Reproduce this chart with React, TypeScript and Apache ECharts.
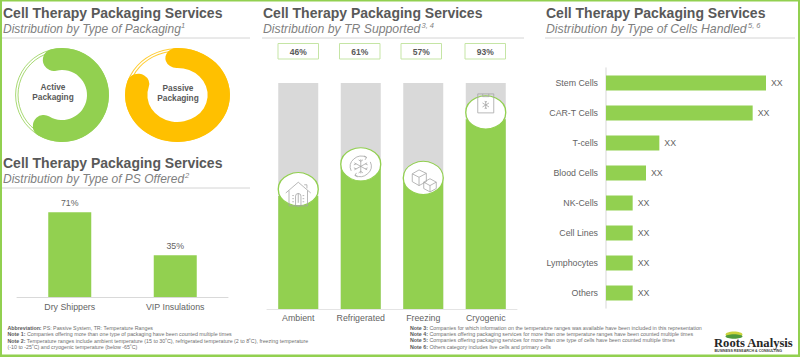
import React, { useEffect, useRef } from "react";
import * as echarts from "echarts";

const GREEN = "#92d050";
const AMBER = "#ffc000";
const GREY = "#d9d9d9";
const INK = "#595959";
const FONT = "'Liberation Sans', Arial, sans-serif";

const mainTitle = "Cell Therapy Packaging Services";

const packagingNames = ["Active\nPackaging", "Passive\nPackaging"];
const packagingLabels = ["52%", "89%"];
// Share of the ring covered by the band as drawn in the picture
const packagingArcShares = [72, 89];

const psCategories = ["Dry Shippers", "VIP Insulations"];
const psValues = [71, 35];

const trCategories = ["Ambient", "Refrigerated", "Freezing", "Cryogenic"];
const trLabels = ["46%", "61%", "57%", "93%"];
// Fill heights and badge centres as drawn in the picture (% of the track)
const trFill = [50, 63, 56, 84];
const trBadge = [53, 64, 58, 87];
const trTrack = [100, 100, 100, 100];

const cellCategories = ["Stem Cells", "CAR-T Cells", "T-cells", "Blood Cells", "NK-Cells", "Cell Lines", "Lymphocytes", "Others"];
const cellValues = [48, 44, 16, 12, 8, 8, 8, 8];

const leftNotes = [
  "{b|Abbreviation:} PS: Passive System, TR: Temperature Ranges",
  "{b|Note 1:} Companies offering more than one type of packaging have been counted multiple times",
  "{b|Note 2:} Temperature ranges include ambient temperature (15 to 30˚C), refrigerated temperature (2 to 8˚C), freezing temperature",
  "(-10 to -25˚C) and cryogenic temperature (below -65˚C)",
];
const rightNotes = [
  "{b|Note 3:} Companies for which information on the temperature ranges was available have been included in this representation",
  "{b|Note 4:} Companies offering packaging services for more than one temperature ranges have been counted multiple times",
  "{b|Note 5:} Companies offering packaging services for more than one type of cells have been counted multiple times",
  "{b|Note 6:} Others category includes live cells and primary cells",
];

const ICON_HOUSE =
  "path://M50 4 L96 46 M50 4 L4 46 M16 36 V96 H84 V36 M72 14 H82 V28 M40 96 V58 A10 10 0 0 1 60 58 V96 M50 46 V84 M28 56 H34 M28 68 H34 M28 80 H34 M66 56 H72 M66 68 H72 M66 80 H72 M42 94 A11 11 0 0 0 58 94";
const ICON_SNOW =
  "path://M50 22 V78 M26 36 L74 64 M74 36 L26 64 M50 30 L42 24 M50 30 L58 24 M50 70 L42 76 M50 70 L58 76 M33 40 L24 44 M67 60 L76 56 M67 40 L76 44 M33 60 L24 56 M14 68 A42 42 0 0 1 72 14 M86 32 A42 42 0 0 1 28 86 M72 14 L62 8 M72 14 L66 24 M28 86 L38 92 M28 86 L34 76";
const ICON_BOXES =
  "path://M4 24 L30 8 L58 22 L58 56 L30 72 L4 56 Z M4 24 L30 38 L58 22 M30 38 V72 M48 58 L72 44 L96 58 L96 84 L72 98 L48 84 Z M48 58 L72 72 L96 58 M72 72 V98";
const ICON_FREEZER =
  "path://M8 2 H92 V98 H8 Z M34 2 V16 H66 V2 M50 38 V78 M33 48 L67 68 M67 48 L33 68 M50 44 L44 40 M50 44 L56 40 M50 72 L44 76 M50 72 L56 76";
const trIcons = [ICON_HOUSE, ICON_SNOW, ICON_BOXES, ICON_FREEZER];

function text(x: number, y: number, t: string, fontSize: number, extra: any = {}) {
  return {
    type: "text",
    x,
    y,
    silent: true,
    style: {
      text: t,
      fontSize,
      fontFamily: FONT,
      fill: INK,
      textAlign: "left",
      textVerticalAlign: "middle",
      ...extra,
    },
  };
}

function heading(x: number, y: number, sub: string, subSize: number, sup: string, supX: number, lineEnd: number) {
  return [
    text(x, y, mainTitle, 14, { fontWeight: "bold" }),
    text(x, y + 15.5, sub, subSize, { fontStyle: "italic", fill: "#7f7f7f" }),
    text(supX, y + 12.5, sup, 7.5, { fontStyle: "italic", fill: "#7f7f7f" }),
    {
      type: "line",
      silent: true,
      shape: { x1: x - 1, y1: y + 25, x2: lineEnd, y2: y + 25 },
      style: { stroke: "#d4d4d4", lineWidth: 1 },
    },
  ];
}

function ringSeries(idx: number, color: string, cx: number, cy: number, stretch: number, r0: number, startDeg: number) {
  return {
    type: "custom",
    coordinateSystem: "none",
    silent: true,
    clip: false,
    data: [[packagingArcShares[idx]]],
    renderItem: (_p: any, api: any) => {
      const share = api.value(0) as number;
      const start = ((startDeg - 90) * Math.PI) / 180;
      const end = start + (share / 100) * Math.PI * 2;
      const ringStyle = { fill: "none", stroke: color, lineWidth: 1, opacity: 0.8 };
      return {
        type: "group",
        x: cx,
        y: cy,
        scaleX: stretch,
        children: [
          { type: "circle", shape: { cx: 0, cy: 0, r: 46.4 }, style: ringStyle },
          { type: "circle", shape: { cx: 0, cy: 0, r: 44 }, style: ringStyle },
          {
            type: "sector",
            shape: { cx: 0, cy: 0, r: 47, r0, startAngle: start, endAngle: end, cornerRadius: (47 - r0) / 2 },
            style: { fill: color },
          },
        ],
      };
    },
  };
}

const axisLabel = { color: "#636363", fontSize: 8.8, fontFamily: FONT, interval: 0 };

function buildOption() {
  const graphics: any[] = [
    { type: "rect", silent: true, shape: { x: 0, y: 0, width: 800, height: 1.5 }, style: { fill: GREEN } },
    { type: "rect", silent: true, shape: { x: 0, y: 0, width: 2, height: 357 }, style: { fill: GREEN } },
    { type: "rect", silent: true, shape: { x: 0, y: 354.5, width: 800, height: 2.5 }, style: { fill: GREEN } },
    { type: "rect", silent: true, shape: { x: 798, y: 0, width: 2, height: 357 }, style: { fill: GREEN } },
    ...heading(3, 13, "Distribution by Type of Packaging", 12, "1", 181, 250),
    ...heading(3, 163, "Distribution by Type of PS Offered", 12, "2", 185, 250),
    ...heading(263, 13, "Distribution by TR Supported", 12.25, "3, 4", 421.5, 524),
    ...heading(546, 13, "Distribution by Type of Cells Handled", 12.25, "5, 6", 748, 795),
    text(53, 92, packagingNames[0], 8.3, { fontWeight: "bold", textAlign: "center", lineHeight: 10.5 }),
    text(178, 93, packagingNames[1], 8.3, { fontWeight: "bold", textAlign: "center", lineHeight: 10.5 }),
    text(62, 128, packagingLabels[0], 8.5, { fontWeight: "bold", textAlign: "center" }),
    text(184, 130, packagingLabels[1], 8.5, { fontWeight: "bold", textAlign: "center" }),
  ];

  const boxX = [278, 339.5, 401, 465];
  trLabels.forEach((l, i) => {
    graphics.push({
      type: "rect",
      silent: true,
      shape: { x: boxX[i], y: 43.5, width: 40.5, height: 15.5 },
      style: { fill: "#fff", stroke: "#c5e5a5", lineWidth: 1 },
    });
    graphics.push(text(boxX[i] + 20.2, 51.5, l, 8.5, { fontWeight: "bold", textAlign: "center" }));
  });

  const noteRich = { b: { fontWeight: "bold", fontSize: 5.3, fontFamily: FONT, fill: INK } };
  const noteY = [328, 334.3, 340.8, 347.2];
  leftNotes.forEach((n, i) => graphics.push(text(7.5, noteY[i], n, 5.3, { rich: noteRich, fill: "#6f6f6f" })));
  rightNotes.forEach((n, i) => graphics.push(text(410, noteY[i] - (i > 1 ? 0.4 : 0), n, 5.3, { rich: noteRich, fill: "#6f6f6f" })));

  graphics.push(
    { type: "ellipse", silent: true, shape: { cx: 734, cy: 334.5, rx: 8.5, ry: 3 }, style: { fill: "#c9d33c" } },
    { type: "ellipse", silent: true, shape: { cx: 734, cy: 336.5, rx: 8.5, ry: 2.2 }, style: { fill: "#4f9a3c" } },
    text(714, 342.5, "Roots Analysis", 12.6, {
      fontFamily: "'Liberation Serif', serif",
      fontWeight: "bold",
      fill: "#262626",
    }),
    text(714.5, 351, "BUSINESS RESEARCH & CONSULTING", 3.6, { fontWeight: "bold", fill: "#404040" })
  );

  return {
    animation: false,
    backgroundColor: "#fff",
    textStyle: { fontFamily: FONT },
    grid: [
      { left: 17, top: 177.5, width: 211, height: 119.5 },
      { left: 267, top: 83, width: 250, height: 226 },
      { left: 606, top: 68, width: 180, height: 240 },
    ],
    xAxis: [
      {
        gridIndex: 0,
        type: "category",
        data: psCategories,
        axisLine: { lineStyle: { color: GREY } },
        axisTick: { show: false },
        axisLabel: { ...axisLabel, margin: 5 },
      },
      {
        gridIndex: 1,
        type: "category",
        data: trCategories,
        axisLine: { lineStyle: { color: "#e4e4e4" } },
        axisTick: { show: false },
        axisLabel: { ...axisLabel, margin: 4 },
      },
      { gridIndex: 2, type: "value", min: 0, max: 54, show: false },
    ],
    yAxis: [
      { gridIndex: 0, type: "value", min: 0, max: 100, show: false },
      { gridIndex: 1, type: "value", min: 0, max: 100, show: false },
      {
        gridIndex: 2,
        type: "category",
        inverse: true,
        data: cellCategories,
        axisLine: { lineStyle: { color: "#e4e4e4", width: 1.5 } },
        axisTick: { show: false },
        axisLabel: { ...axisLabel, margin: 8 },
      },
    ],
    series: [
      ringSeries(0, GREEN, 62, 95, 1, 25, -31),
      ringSeries(1, AMBER, 177.5, 95, 1.117, 27, -17),
      {
        type: "bar",
        xAxisIndex: 0,
        yAxisIndex: 0,
        data: psValues,
        barWidth: 43,
        itemStyle: { color: GREEN },
        silent: true,
        label: {
          show: true,
          position: "top",
          distance: 5,
          color: "#636363",
          fontSize: 8.8,
          fontFamily: FONT,
          formatter: "{c}%",
        },
      },
      {
        type: "bar",
        xAxisIndex: 1,
        yAxisIndex: 1,
        data: trTrack,
        barWidth: 40,
        barGap: "-100%",
        silent: true,
        itemStyle: { color: GREY },
      },
      {
        type: "bar",
        xAxisIndex: 1,
        yAxisIndex: 1,
        data: trFill,
        barWidth: 40,
        barGap: "-100%",
        silent: true,
        itemStyle: { color: GREEN },
      },
      {
        type: "scatter",
        xAxisIndex: 1,
        yAxisIndex: 1,
        data: trBadge,
        symbol: "circle",
        symbolSize: [40, 33],
        silent: true,
        z: 5,
        itemStyle: { color: "#fff", borderColor: GREEN, borderWidth: 1.2, opacity: 1 },
      },
      {
        type: "scatter",
        xAxisIndex: 1,
        yAxisIndex: 1,
        silent: true,
        z: 6,
        data: trBadge.map((v, i) => ({
          value: v,
          symbol: trIcons[i],
          symbolSize: [[25, 24], [21, 21], [24, 22], [16, 19]][i],
          symbolOffset: [[0, 5], [0, 2], [1, 3], [0, -9]][i],
        })),
        symbolKeepAspect: false,
        itemStyle: { color: "rgba(255,255,255,0)", borderColor: "#a6a6a6", borderWidth: 0.8, opacity: 1 },
      },
      {
        type: "bar",
        xAxisIndex: 2,
        yAxisIndex: 2,
        data: cellValues,
        barWidth: 15,
        silent: true,
        itemStyle: { color: GREEN },
        label: {
          show: true,
          position: "right",
          distance: 5,
          color: "#636363",
          fontSize: 8.8,
          fontFamily: FONT,
          formatter: "XX",
        },
      },
    ],
    graphic: { elements: graphics },
  };
}

export default function App() {
  const ref = useRef<HTMLDivElement>(null);
  useEffect(() => {
    document.body.style.margin = "0";
    const chart = echarts.init(ref.current!, undefined, { renderer: "svg" });
    chart.setOption(buildOption() as any);
    return () => chart.dispose();
  }, []);
  return <div ref={ref} style={{ width: 800, height: 357 }} />;
}
